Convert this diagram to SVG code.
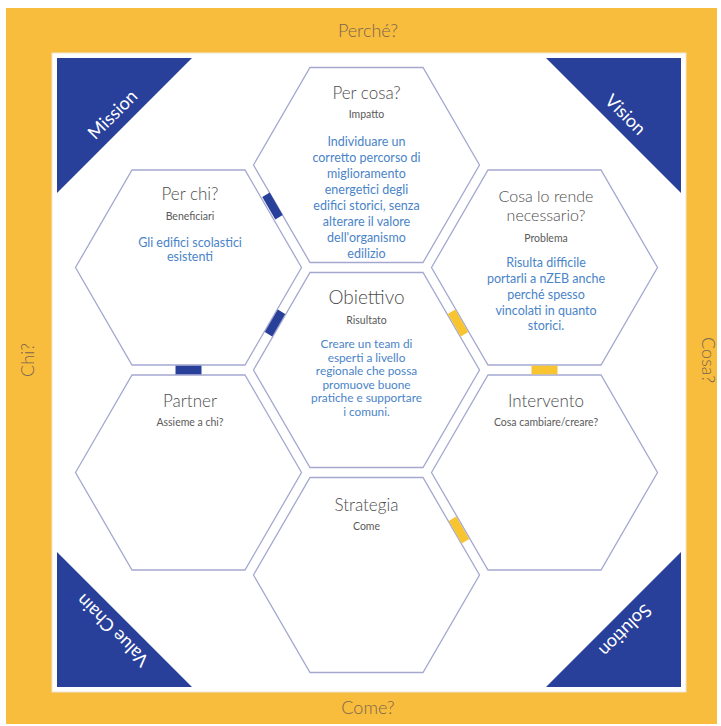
<svg xmlns="http://www.w3.org/2000/svg" width="721" height="726" viewBox="0 0 721 726">
<style>
.hex{fill:#fff;stroke:#a4a8cf;stroke-width:1.3}
.tri{fill:#28409a}
.tl{font-family:Lato,"Open Sans","Liberation Sans",sans-serif;fill:#fff;font-size:18px;text-anchor:middle;dominant-baseline:central}
.fl{font-family:Lato,"Open Sans","Liberation Sans",sans-serif;fill:#7a6650;font-size:18px;font-weight:300;text-anchor:middle}
.t{font-family:Lato,"Open Sans","Liberation Sans",sans-serif;fill:#4d4d4d;font-size:17px;font-weight:300;text-anchor:middle}
.s{font-family:Lato,"Open Sans","Liberation Sans",sans-serif;fill:#5a5a5a;font-size:10.5px;text-anchor:middle}
.b{font-family:Lato,"Open Sans","Liberation Sans",sans-serif;fill:#4a84c8;font-size:12.5px;text-anchor:middle}
.bb{fill:#28409a}
.yb{fill:#f8c430}
</style>
<rect x="6" y="8" width="711" height="716" fill="#f9bd3d"/>
<rect x="52" y="53" width="634" height="639" fill="#fff" stroke="#efe6d6" stroke-width="1"/>
<g id="frame-labels">
<text class="fl" x="368" y="37">Perché?</text>
<text class="fl" x="368" y="714">Come?</text>
<text class="fl" transform="translate(34,360) rotate(-90)">Chi?</text>
<text class="fl" transform="translate(702,360) rotate(90)">Cosa?</text>
</g>
<g id="mission"><polygon class="tri" points="57,58 192,58 57,193"/><text class="tl" transform="translate(112,114) rotate(-45)">Mission</text></g>
<g id="vision"><polygon class="tri" points="546,58 681,58 681,193"/><text class="tl" transform="translate(626,114) rotate(45)">Vision</text></g>
<g id="value-chain"><polygon class="tri" points="57,552 57,687 192,687"/><text class="tl" transform="translate(112,631) rotate(-135)">Value Chain</text></g>
<g id="solution"><polygon class="tri" points="681,552 681,687 546,687"/><text class="tl" transform="translate(626,631) rotate(135)">Solution</text></g>

<g id="per-cosa">
<polygon class="hex" points="253.5,165 310,67.5 423,67.5 479.5,165 423,262.5 310,262.5"/>
<text class="t" x="366.5" y="99">Per cosa?</text>
<text class="s" x="366.5" y="118">Impatto</text>
<text class="b"><tspan x="366.5" y="146">Individuare un</tspan><tspan x="366.5" y="162">corretto percorso di</tspan><tspan x="366.5" y="178">miglioramento</tspan><tspan x="366.5" y="194">energetici degli</tspan><tspan x="366.5" y="210">edifici storici, senza</tspan><tspan x="366.5" y="226">alterare il valore</tspan><tspan x="366.5" y="242">dell'organismo</tspan><tspan x="366.5" y="258">edilizio</tspan></text>
</g>
<g id="per-chi">
<polygon class="hex" points="75.5,267.5 132,170 245,170 301.5,267.5 245,365 132,365"/>
<text class="t" x="190" y="200">Per chi?</text>
<text class="s" x="190" y="220">Beneficiari</text>
<text class="b"><tspan x="190" y="247">Gli edifici scolastici</tspan><tspan x="190" y="261">esistenti</tspan></text>
</g>
<g id="cosa-lo-rende">
<polygon class="hex" points="431.5,267.5 488,170 601,170 657.5,267.5 601,365 488,365"/>
<text class="t" style="font-size:16px"><tspan x="546" y="202">Cosa lo rende</tspan><tspan x="546" y="221">necessario?</tspan></text>
<text class="s" x="546" y="242">Problema</text>
<text class="b"><tspan x="546" y="267">Risulta difficile</tspan><tspan x="546" y="283">portarli a nZEB anche</tspan><tspan x="546" y="299">perché spesso</tspan><tspan x="546" y="315">vincolati in quanto</tspan><tspan x="546" y="330">storici.</tspan></text>
</g>
<g id="obiettivo">
<polygon class="hex" points="253.5,370 310,272.5 423,272.5 479.5,370 423,467.5 310,467.5"/>
<text class="t" x="366.5" y="304" style="font-size:19px">Obiettivo</text>
<text class="s" x="366.5" y="324">Risultato</text>
<text class="b" style="font-size:11.8px"><tspan x="366.5" y="348">Creare un team di</tspan><tspan x="366.5" y="361.6">esperti a livello</tspan><tspan x="366.5" y="375.2">regionale che possa</tspan><tspan x="366.5" y="388.8">promuove buone</tspan><tspan x="366.5" y="402.4">pratiche e supportare</tspan><tspan x="366.5" y="416">i comuni.</tspan></text>
</g>
<g id="partner">
<polygon class="hex" points="75.5,472.5 132,375 245,375 301.5,472.5 245,570 132,570"/>
<text class="t" x="190" y="407">Partner</text>
<text class="s" x="190" y="426">Assieme a chi?</text>
</g>
<g id="intervento">
<polygon class="hex" points="431.5,472.5 488,375 601,375 657.5,472.5 601,570 488,570"/>
<text class="t" x="546" y="407">Intervento</text>
<text class="s" x="546" y="426">Cosa cambiare/creare?</text>
</g>
<g id="strategia">
<polygon class="hex" points="253.5,575 310,477.5 423,477.5 479.5,575 423,672.5 310,672.5"/>
<text class="t" x="366.5" y="511">Strategia</text>
<text class="s" x="366.5" y="530">Come</text>
</g>

<g id="connectors">
<rect class="bb" x="-13" y="-4.3" width="26" height="8.6" transform="translate(272.5,206) rotate(60)"/>
<rect class="bb" x="-13" y="-4.3" width="26" height="8.6" transform="translate(275,323) rotate(-60)"/>
<rect class="bb" x="-13" y="-4.3" width="26" height="8.6" transform="translate(188.5,370)"/>
<rect class="yb" x="-13" y="-4.3" width="26" height="8.6" transform="translate(458,323) rotate(60)"/>
<rect class="yb" x="-13" y="-4.3" width="26" height="8.6" transform="translate(544.5,370)"/>
<rect class="yb" x="-13" y="-4.3" width="26" height="8.6" transform="translate(459,530) rotate(60)"/>
</g>
</svg>
